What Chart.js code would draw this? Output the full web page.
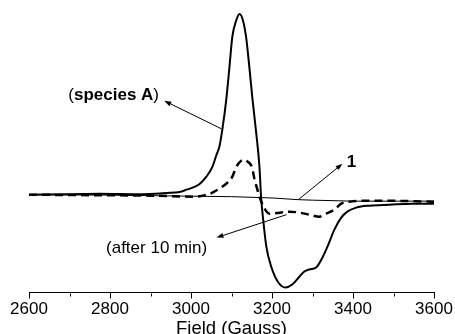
<!DOCTYPE html>
<html>
<head>
<meta charset="utf-8">
<script src="https://cdn.jsdelivr.net/npm/chart.js@4.4.1/dist/chart.umd.min.js"></script>
<style>
  body { margin: 0; background: #fff; }
  canvas { display: block; }
</style>
</head>
<body>
<canvas id="myChart" width="455" height="334"></canvas>
<script>
const FONT = 'Arial, "Liberation Sans", sans-serif';

// x axis
const fieldTicks = [2600, 2800, 3000, 3200, 3400, 3600];
const minorTicks = [2700, 2900, 3100, 3300, 3500];

// (species A) - solid
const speciesField = [2600, 2700, 2774, 2873, 2940, 2972, 2989, 3010, 3022, 3038, 3053, 3063, 3070, 3078,
    3087, 3095, 3102, 3112, 3120, 3128, 3136, 3144, 3152, 3161, 3169, 3173, 3179, 3186, 3198, 3214,
    3233, 3250, 3268, 3280, 3292, 3309, 3322, 3337, 3354, 3371, 3386, 3408, 3441, 3490, 3547, 3600];
const speciesSignal = [5, 5.5, 6, 5.5, 6.7, 7.7, 10, 13, 16, 23, 33, 45, 53, 72,
    100, 133, 163, 180, 186, 180, 163, 133, 100, 67, 33, 3, -23, -47, -67, -82,
    -88, -85, -77, -72, -70, -68, -60, -47, -30, -18, -12, -8, -6, -5, -4, -4];

// (after 10 min) - dashed
const afterField = [2600, 2750, 2900, 3013, 3040, 3053, 3070, 3090, 3102, 3108, 3115, 3124, 3132, 3140,
    3149, 3153, 3157, 3164, 3169, 3179, 3194, 3219, 3243, 3268, 3292, 3317, 3334, 3354, 3371, 3391,
    3465, 3600];
const afterSignal = [5, 4.5, 4, 3, 5, 7, 11, 17, 23, 29, 35, 39, 40, 38,
    34, 28, 20, 10, 3, -7, -14, -13, -12, -13, -15, -17, -14, -10, -4, -2,
    -1, -2];

// 1 - thin
const oneField = [2600, 2700, 2800, 2900, 3000, 3100, 3200, 3265, 3300, 3400, 3500, 3600];
const oneSignal = [5, 4.8, 4.5, 4, 3.5, 3, 1.7, 0, -0.5, -1.5, -1.5, -1.5];

function zip(xs, ys) {
    return xs.map((x, i) => ({ x: x, y: ys[i] }));
}

// labels + arrows, in data units
const notes = [
    { text: ['(', 'species A', ')'], x: 2809, y: 105, from: [3075, 71], to: [2934, 99] },
    { text: ['', '1', ''], x: 3396, y: 37, from: [3265, 0], to: [3374, 36] },
    { text: ['(after 10 min)', '', ''], x: 2915, y: -49, from: [3236, -15], to: [3063, -38] }
];

function drawArrow(ctx, x1, y1, x2, y2) {
    const a = Math.atan2(y2 - y1, x2 - x1);
    const head = 7, half = 2.5;
    const bx = x2 - head * Math.cos(a), by = y2 - head * Math.sin(a);
    ctx.beginPath();
    ctx.moveTo(x1, y1);
    ctx.lineTo(bx, by);
    ctx.stroke();
    ctx.beginPath();
    ctx.moveTo(x2, y2);
    ctx.lineTo(bx + half * Math.sin(a), by - half * Math.cos(a));
    ctx.lineTo(bx - half * Math.sin(a), by + half * Math.cos(a));
    ctx.closePath();
    ctx.fill();
}

const extras = {
    id: 'extras',
    afterDraw(chart) {
        const ctx = chart.ctx;
        const xs = chart.scales.x, ys = chart.scales.y;
        ctx.save();
        ctx.strokeStyle = '#000';
        ctx.fillStyle = '#000';

        // minor ticks
        ctx.lineWidth = 1;
        const top = Math.round(ys.bottom) + 0.5;
        minorTicks.forEach(v => {
            const px = Math.round(xs.getPixelForValue(v)) + 0.5;
            ctx.beginPath();
            ctx.moveTo(px, top);
            ctx.lineTo(px, top + 3);
            ctx.stroke();
        });

        notes.forEach(n => {
            ctx.lineWidth = 1;
            drawArrow(ctx,
                xs.getPixelForValue(n.from[0]), ys.getPixelForValue(n.from[1]),
                xs.getPixelForValue(n.to[0]), ys.getPixelForValue(n.to[1]));

            const reg = '17px ' + FONT, bold = 'bold 17px ' + FONT;
            ctx.font = reg;
            const w0 = ctx.measureText(n.text[0]).width;
            const w2 = ctx.measureText(n.text[2]).width;
            ctx.font = bold;
            const w1 = ctx.measureText(n.text[1]).width;
            let px = xs.getPixelForValue(n.x) - (w0 + w1 + w2) / 2;
            const py = ys.getPixelForValue(n.y);
            ctx.textBaseline = 'middle';
            ctx.textAlign = 'left';
            ctx.font = reg;
            ctx.fillText(n.text[0], px, py);
            px += w0;
            ctx.font = bold;
            ctx.fillText(n.text[1], px, py);
            px += w1;
            ctx.font = reg;
            ctx.fillText(n.text[2], px, py);
        });
        ctx.restore();
    }
};

const ctx = document.getElementById('myChart').getContext('2d');
const myChart = new Chart(ctx, {
    type: 'line',
    data: {
        datasets: [{
            label: '(species A)',
            data: zip(speciesField, speciesSignal),
            borderColor: '#000',
            borderWidth: 2,
            pointRadius: 0,
            cubicInterpolationMode: 'monotone'
        }, {
            label: '(after 10 min)',
            data: zip(afterField, afterSignal),
            borderColor: '#000',
            borderWidth: 2.5,
            borderDash: [8, 5],
            pointRadius: 0,
            cubicInterpolationMode: 'monotone'
        }, {
            label: '1',
            data: zip(oneField, oneSignal),
            borderColor: '#000',
            borderWidth: 1,
            pointRadius: 0,
            tension: 0
        }]
    },
    options: {
        responsive: false,
        animation: false,
        layout: {
            padding: { left: 29, right: 21, top: 0, bottom: -4 }
        },
        plugins: {
            legend: { display: false },
            tooltip: { enabled: false }
        },
        scales: {
            x: {
                type: 'linear',
                min: 2600,
                max: 3600,
                afterBuildTicks: (axis) => {
                    axis.ticks = fieldTicks.map(v => ({ value: v }));
                },
                border: { display: true, color: '#000', width: 1 },
                grid: {
                    drawOnChartArea: false,
                    drawTicks: true,
                    tickLength: 6,
                    color: '#000'
                },
                ticks: {
                    color: '#000',
                    padding: 2,
                    maxRotation: 0,
                    font: { family: FONT, size: 17, lineHeight: 1 },
                    callback: (v) => String(v)
                },
                title: {
                    display: true,
                    text: 'Field (Gauss)',
                    color: '#000',
                    padding: { top: 0, bottom: 0 },
                    font: { family: FONT, size: 18.5, lineHeight: 1 }
                }
            },
            y: {
                display: false,
                min: -93,
                max: 200
            }
        }
    },
    plugins: [extras]
});
</script>
</body>
</html>
